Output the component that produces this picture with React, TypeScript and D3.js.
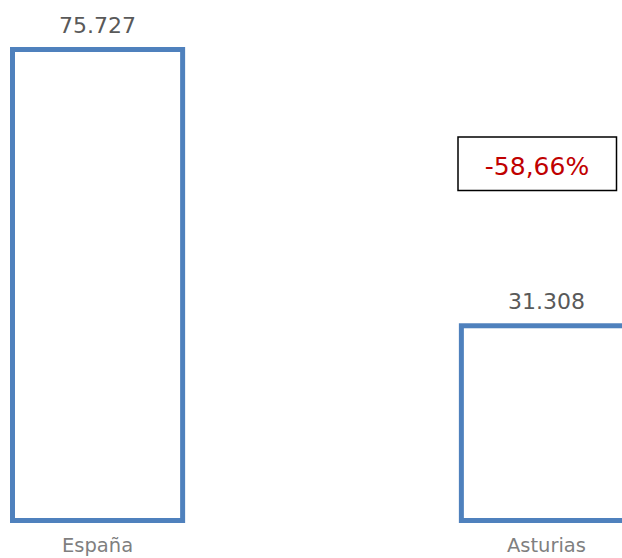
import React from "react";
import * as d3 from "d3";

const categories = ["España", "Asturias"];
const values = [75727, 31308];

const width = 622;
const height = 558;

const blue = "#4f81bd";
const font = "DejaVu Sans, Verdana, sans-serif";

const fmtValue = (v: number) => d3.format(",")(v).replace(/,/g, ".");
const fmtPct = (v: number) => d3.format(".2%")(v).replace(".", ",").replace("−", "-");

export default function App() {
  const x = d3
    .scaleBand<string>()
    .domain(categories)
    .range([12.5, 631.5])
    .paddingInner(0.621)
    .paddingOuter(0);

  const y = d3.scaleLinear().domain([0, 75727]).range([520.5, 49.5]);

  const change = (values[1] - values[0]) / values[0];

  return (
    <svg
      width={width}
      height={height}
      style={{ position: "absolute", left: 0, top: 0, background: "#fff" }}
    >
      {categories.map((c, i) => {
        const bx = x(c)!;
        const bw = x.bandwidth();
        const cx = bx + bw / 2;
        return (
          <g key={c}>
            <rect
              x={bx}
              y={y(values[i])}
              width={bw}
              height={y(0) - y(values[i])}
              fill="#fff"
              stroke={blue}
              strokeWidth={5}
            />
            <text
              x={cx}
              y={y(values[i]) - 17}
              textAnchor="middle"
              fontFamily={font}
              fontSize={22}
              fill="#595959"
            >
              {fmtValue(values[i])}
            </text>
            <text
              x={cx}
              y={551.5}
              textAnchor="middle"
              fontFamily={font}
              fontSize={19.5}
              fill="#7f7f7f"
            >
              {c}
            </text>
          </g>
        );
      })}
      <rect x={458} y={137} width={158.5} height={53.5} fill="#fff" stroke="#000" strokeWidth={1.5} />
      <text
        x={537}
        y={175}
        textAnchor="middle"
        fontFamily={font}
        fontSize={25}
        fill="#c00000"
      >
        {fmtPct(change)}
      </text>
    </svg>
  );
}
